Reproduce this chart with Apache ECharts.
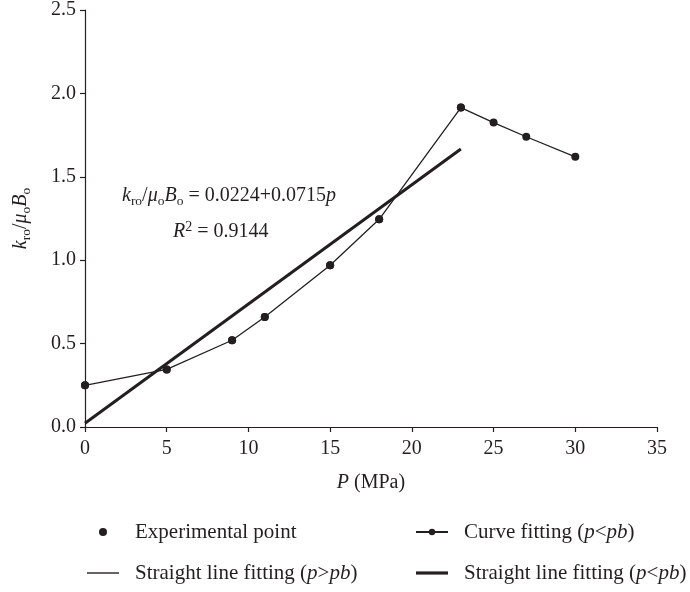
<!DOCTYPE html>
<html>
<head>
<meta charset="utf-8">
<script src="https://cdn.jsdelivr.net/npm/echarts@6/dist/echarts.min.js"></script>
<style>
  html, body { margin: 0; padding: 0; background: #fff; }
  #chart { width: 690px; height: 592px; }
</style>
</head>
<body>
<div id="chart"></div>
<script>
// Measured pressure (MPa) and kro/(μo·Bo)
const pressure = [0, 5, 9, 11, 15, 18, 23, 25, 27, 30];
const mobility = [0.25, 0.345, 0.52, 0.66, 0.97, 1.245, 1.915, 1.825, 1.74, 1.62];

// Points below the bubble-point pressure (curve fit) and above it
const curveIdx = [0, 1, 2, 3, 4, 5, 6];
const upperIdx = [6, 7, 8, 9];

// Linear fit kro/μoBo = 0.0224 + 0.0715p, end points at p = 0 and p = 23
const fitP = [0, 23];
const fitY = [0.0224, 1.667];

const xTicks = [0, 5, 10, 15, 20, 25, 30, 35];
const yTicks = [0, 0.5, 1.0, 1.5, 2.0, 2.5];

const ink = '#231f20';
const serif = "'Liberation Serif', 'DejaVu Serif', serif";
const fs = 20;
const legendFs = 21;

function makeRich(size) {
  return {
    i: { fontFamily: serif, fontSize: size, fontStyle: 'italic', fontWeight: 'normal', color: ink, lineHeight: 24 },
    n: { fontFamily: serif, fontSize: size, fontWeight: 'normal', color: ink, lineHeight: 24 },
    sub: { fontFamily: serif, fontSize: 13.5, fontWeight: 'normal', color: ink, verticalAlign: 'bottom', lineHeight: 12 },
    sup: { fontFamily: serif, fontSize: 14, fontWeight: 'normal', color: ink, verticalAlign: 'top', lineHeight: 20 },
    sp: { width: 11 }
  };
}
const richText = makeRich(fs);
const legendRich = makeRich(legendFs);

const pairs = idx => idx.map(k => [pressure[k], mobility[k]]);

const legendNames = {
  'Experimental point': '{sp|}{n|Experimental point}',
  'Curve fitting (p<pb)': '{sp|}{n|Curve fitting (}{i|p}{n|<}{i|pb}{n|)}',
  'Straight line fitting (p>pb)': '{sp|}{n|Straight line fitting (}{i|p}{n|>}{i|pb}{n|)}',
  'Straight line fitting (p<pb)': '{sp|}{n|Straight line fitting (}{i|p}{n|<}{i|pb}{n|)}'
};

const legendBase = {
  orient: 'vertical',
  itemWidth: 32,
  itemHeight: 8,
  itemGap: 17,
  padding: 0,
  formatter: name => legendNames[name],
  textStyle: { fontFamily: serif, fontSize: legendFs, color: ink, lineHeight: 24, rich: legendRich }
};

const chart = echarts.init(document.getElementById('chart'), null, { renderer: 'canvas' });

chart.setOption({
  animation: false,
  backgroundColor: '#fff',
  textStyle: { fontFamily: serif },
  grid: { left: 85, right: 33, top: 9, bottom: 165, containLabel: false },
  title: [
    {
      text: '{i|k}{sub|ro}{n|/}{i|μ}{sub|o}{i|B}{sub|o}{n| = 0.0224+0.0715}{i|p}',
      left: 122, top: 184, padding: 0,
      textStyle: { fontWeight: 'normal', rich: richText }
    },
    {
      text: '{i|R}{sup|2}{n| = 0.9144}',
      left: 173, top: 220, padding: 0,
      textStyle: { fontWeight: 'normal', rich: richText }
    }
  ],
  legend: [
    Object.assign({}, legendBase, {
      left: 87, top: 520,
      data: [
        { name: 'Experimental point' },
        { name: 'Straight line fitting (p>pb)', icon: 'path://M0,0L30,0L30,1.3L0,1.3Z' }
      ]
    }),
    Object.assign({}, legendBase, {
      left: 415, top: 520,
      data: [
        { name: 'Curve fitting (p<pb)' },
        { name: 'Straight line fitting (p<pb)', icon: 'path://M0,0L30,0L30,3L0,3Z' }
      ]
    })
  ],
  xAxis: {
    type: 'value',
    min: xTicks[0], max: xTicks[xTicks.length - 1], interval: 5,
    name: '{i|P}{n| (MPa)}',
    nameLocation: 'middle', nameGap: 44,
    nameTextStyle: { rich: richText },
    axisLine: { onZero: false, lineStyle: { color: ink, width: 1.2 } },
    axisTick: { show: true, inside: false, length: 5, lineStyle: { color: ink, width: 1.2 } },
    axisLabel: { color: ink, fontFamily: serif, fontSize: fs, margin: 12 },
    splitLine: { show: false }
  },
  yAxis: {
    type: 'value',
    min: yTicks[0], max: yTicks[yTicks.length - 1], interval: 0.5,
    name: '{i|k}{sub|ro}{n|/}{i|μ}{sub|o}{i|B}{sub|o}',
    nameLocation: 'middle', nameGap: 52, nameRotate: 90,
    nameTextStyle: { rich: richText },
    axisLine: { show: true, onZero: false, lineStyle: { color: ink, width: 1.2 } },
    axisTick: { show: true, inside: false, length: 5, lineStyle: { color: ink, width: 1.2 } },
    axisLabel: { color: ink, fontFamily: serif, fontSize: fs, margin: 9, formatter: v => v.toFixed(1) },
    splitLine: { show: false }
  },
  series: [
    {
      name: 'Straight line fitting (p<pb)',
      type: 'line',
      data: fitP.map((p, k) => [p, fitY[k]]),
      symbol: 'none',
      lineStyle: { color: ink, width: 3 },
      itemStyle: { color: ink },
      z: 3
    },
    {
      name: 'Curve fitting (p<pb)',
      type: 'line',
      data: pairs(curveIdx),
      symbol: 'circle', symbolSize: 8, showSymbol: true,
      lineStyle: { color: ink, width: 1.3 },
      itemStyle: { color: ink, opacity: 1 },
      z: 4
    },
    {
      name: 'Straight line fitting (p>pb)',
      type: 'line',
      data: pairs(upperIdx),
      symbol: 'none',
      lineStyle: { color: ink, width: 1.3 },
      itemStyle: { color: ink },
      z: 4
    },
    {
      name: 'Experimental point',
      type: 'scatter',
      data: pairs(pressure.map((_, k) => k)),
      symbol: 'circle', symbolSize: 8,
      itemStyle: { color: ink, opacity: 1 },
      z: 5
    }
  ]
});
</script>
</body>
</html>
